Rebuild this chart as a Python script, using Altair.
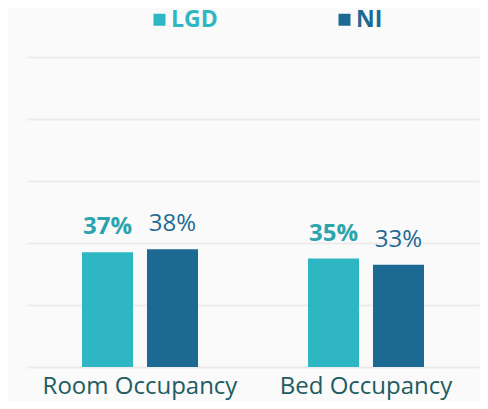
import altair as alt
import pandas as pd

categories = ["Room Occupancy", "Bed Occupancy"]
series_names = ["LGD", "NI"]
lgd_values = [37, 35]
ni_values = [38, 33]
bar_colors = ["#2EB7C2", "#1C6A94"]
label_colors = ["#2BA4AE", "#1F6A94"]
grid_values = [0, 20, 40, 60, 80, 100]

rows = []
for c, a, b in zip(categories, lgd_values, ni_values):
    rows.append({"category": c, "series": "LGD", "value": a})
    rows.append({"category": c, "series": "NI", "value": b})
df = pd.DataFrame(rows)
df["label"] = df["value"].astype(str) + "%"

FONT = "Open Sans"

base = alt.Chart(df).encode(
    x=alt.X(
        "category:N",
        sort=categories,
        scale=alt.Scale(domain=categories, paddingInner=0, paddingOuter=0),
        axis=alt.Axis(
            title=None, labelAngle=0, labelFontSize=24, labelColor="#215C60",
            labelFont=FONT, domain=False, ticks=False, labelPadding=7,
            labelLimit=400,
        ),
    ),
    xOffset=alt.XOffset(
        "series:N",
        scale=alt.Scale(domain=series_names, paddingInner=0.215, paddingOuter=0.846),
    ),
    y=alt.Y(
        "value:Q",
        scale=alt.Scale(domain=[0, 100]),
        axis=alt.Axis(
            title=None, labels=False, ticks=False, domain=False,
            values=grid_values, gridColor="#EBEBEB", gridWidth=2,
        ),
    ),
)

bars = base.mark_bar().encode(
    color=alt.Color(
        "series:N",
        scale=alt.Scale(domain=series_names, range=bar_colors),
        legend=alt.Legend(
            title=None, orient="none", legendX=121, legendY=-49,
            direction="horizontal", symbolType="square", symbolSize=144,
            symbolStrokeWidth=0, labelFontSize=23, labelFontWeight="bold",
            labelFont=FONT, labelOffset=0, columnPadding=115, padding=0,
            labelLimit=200,
            labelColor=alt.ExprRef(
                "datum.label == 'LGD' ? '%s' : '%s'" % (bar_colors[0], bar_colors[1])
            ),
        ),
    )
)

lgd_text = base.mark_text(
    dy=-18, baseline="alphabetic", fontSize=24, fontWeight="bold",
    font=FONT, color=label_colors[0],
).encode(text="label:N").transform_filter("datum.series == 'LGD'")

ni_text = base.mark_text(
    dy=-18, baseline="alphabetic", fontSize=24, fontWeight="normal",
    font=FONT, color=label_colors[1],
).encode(text="label:N").transform_filter("datum.series == 'NI'")

chart = alt.layer(bars, lgd_text, ni_text).properties(
    width=452, height=310,
    padding={"left": 19, "top": 49, "right": 1, "bottom": 34},
    autosize=alt.AutoSizeParams(type="none"),
    background="#FAFAFA",
).configure_view(stroke=None)

chart.save("out.html", embed_options={"renderer": "svg", "actions": False})
